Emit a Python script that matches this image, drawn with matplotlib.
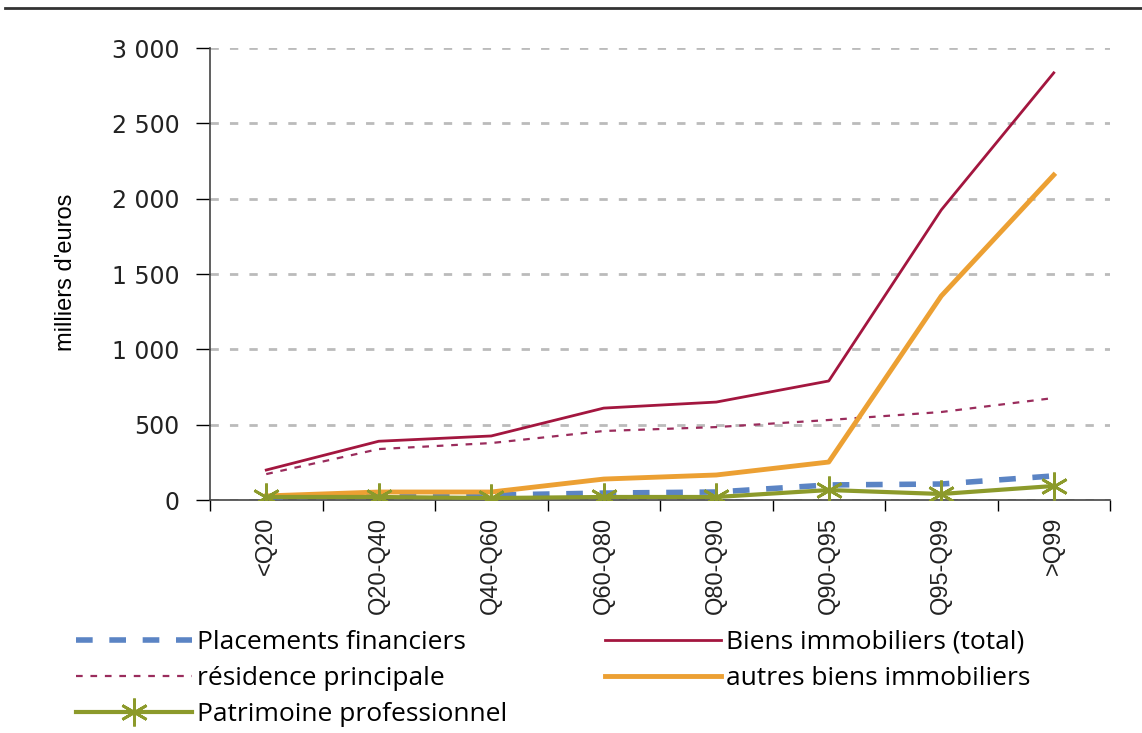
import matplotlib
matplotlib.use("Agg")
import matplotlib.pyplot as plt
from matplotlib.lines import Line2D

categories = ["<Q20", "Q20-Q40", "Q40-Q60", "Q60-Q80", "Q80-Q90", "Q90-Q95", "Q95-Q99", ">Q99"]

placements = [20, 33, 33, 46, 53, 100, 106, 160]
biens_total = [199, 390, 425, 610, 650, 790, 1925, 2835]
residence = [172, 338, 378, 458, 484, 531, 584, 677]
autres = [27, 53, 53, 139, 166, 252, 1354, 2157]
patrimoine_pro = [20, 20, 13, 20, 20, 66, 40, 93]

yticks = [0, 500, 1000, 1500, 2000, 2500, 3000]
ytick_labels = ["0", "500", "1 000", "1 500", "2 000", "2 500", "3 000"]

fig = plt.figure(figsize=(11.42, 7.33), dpi=100)
ax = fig.add_axes([210 / 1142, 1 - 500 / 733, 900 / 1142, 452 / 733])

x = list(range(len(categories)))

ax.plot(x, placements, color="#5b84c4", lw=4, dashes=(3, 3), zorder=3)
ax.plot(x, biens_total, color="#a3163f", lw=2, zorder=4)
ax.plot(x, residence, color="#9a2c5c", lw=1.6, dashes=(3, 3.5), zorder=3)
ax.plot(x, autres, color="#eca033", lw=3.5, zorder=4)
ax.plot(x, patrimoine_pro, color="#8c9a2b", lw=3, marker=(6, 2, 0),
        markersize=20, markeredgewidth=2, zorder=5)

ax.set_xlim(-0.5, 7.5)
ax.set_ylim(0, 3000)

ax.set_yticks(yticks)
ax.set_yticklabels(ytick_labels, fontsize=17, color="#222222")
ax.tick_params(axis="y", direction="out", length=10, width=1, pad=12)

ax.set_xticks(x)
ax.set_xticklabels(categories, rotation=90, fontsize=17, family="Liberation Sans", color="#222222")
ax.set_xticks([i - 0.5 for i in range(len(categories) + 1)], minor=True)
ax.tick_params(axis="x", which="major", length=0, pad=12)
ax.tick_params(axis="x", which="minor", direction="out", length=8, width=1)

ax.grid(axis="y", color="#bbbbbb", lw=2, dashes=(3, 4))
ax.set_axisbelow(True)

for s in ["top", "right"]:
    ax.spines[s].set_visible(False)
for s in ["left", "bottom"]:
    ax.spines[s].set_color("#444444")
    ax.spines[s].set_linewidth(1.2)

fig.text(66 / 1142, 1 - 272 / 733, "milliers d'euros", rotation=90, ha="center", va="center",
         fontsize=17, family="Liberation Sans")

# ligne en haut de la figure
fig.add_artist(Line2D([5 / 1142, 1], [1 - 8 / 733, 1 - 8 / 733], color="#333333", lw=2))

handles = [
    Line2D([], [], color="#5b84c4", lw=4, dashes=(3, 3)),
    Line2D([], [], color="#9a2c5c", lw=1.6, dashes=(3, 3.5)),
    Line2D([], [], color="#8c9a2b", lw=3, marker=(6, 2, 0), markersize=20, markeredgewidth=2),
    Line2D([], [], color="#a3163f", lw=2),
    Line2D([], [], color="#eca033", lw=3.5),
]
labels = ["Placements financiers", "résidence principale", "Patrimoine professionnel",
          "Biens immobiliers (total)", "autres biens immobiliers"]
fig.legend(handles, labels, ncol=2, loc="upper left", bbox_to_anchor=(52 / 1142, 1 - 606 / 733),
           frameon=False, prop={"family": "Open Sans", "size": 19}, handlelength=4.4,
           handletextpad=0.2, columnspacing=3.7, labelspacing=0.42)

fig.savefig("out.png", dpi=100)
